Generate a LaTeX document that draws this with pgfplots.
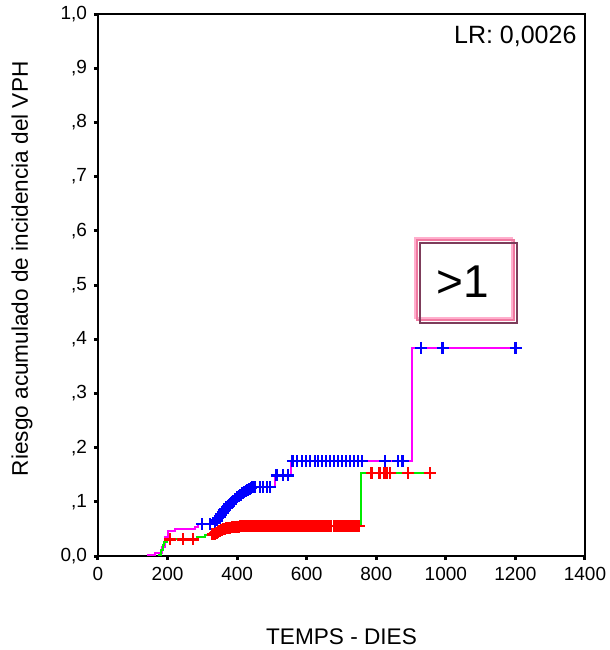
\documentclass[border=0pt]{standalone}
\usepackage{pgfplots}
\pgfplotsset{compat=1.18}
\usepackage{fontspec}
\setmainfont{Liberation Sans}
\definecolor{magline}{RGB}{255,0,255}
\definecolor{grnline}{RGB}{0,235,0}
\definecolor{bluemk}{RGB}{0,0,255}
\definecolor{redmk}{RGB}{255,0,0}
\definecolor{pinkA}{RGB}{255,175,205}
\definecolor{pinkB}{RGB}{240,120,160}
\definecolor{darkB}{RGB}{125,60,90}
\begin{document}
\begin{tikzpicture}
\path[use as bounding box] (-49pt,-47pt) rectangle (256pt,278pt);
\begin{axis}[
  at={(0,0)}, anchor=south west,
  scale only axis, width=243.5pt, height=271pt,
  xmin=0, xmax=1400, ymin=0, ymax=1,
  xtick={0,200,400,600,800,1000,1200,1400},
  ytick={0,0.1,0.2,0.3,0.4,0.5,0.6,0.7,0.8,0.9,1.0},
  yticklabels={{0,0},{,1},{,2},{,3},{,4},{,5},{,6},{,7},{,8},{,9},{1,0}},
  xtick pos=bottom, ytick pos=left,
  /pgf/number format/assume math mode=true,
  /pgf/number format/1000 sep={},
  tick align=outside,
  major tick length=2pt,
  tick style={black, line width=1.5pt},
  axis line style={black, line width=1.1pt},
  ticklabel style={font=\fontsize{9.5}{11}\selectfont},
  xlabel={TEMPS - DIES},
  ylabel={Riesgo acumulado de incidencia del VPH},
  xlabel style={at={(axis description cs:0.5,0)}, anchor=center, yshift=-40.5pt, font=\fontsize{11.3}{13}\selectfont},
  ylabel style={at={(axis description cs:-0.156,0.53)}, anchor=center, font=\fontsize{11.3}{13}\selectfont},
]
% magenta curve (blue censor marks)
\addplot[const plot, magline, line width=1pt] coordinates {
(141,0.002) (164,0.006) (185,0.017) (192,0.035) (200,0.046) (222,0.050) (279,0.054) (287,0.059)
(330,0.061) (336,0.062) (341,0.066) (346,0.070) (350,0.073) (354,0.077) (358,0.080) (362,0.084)
(366,0.087) (370,0.090) (374,0.092) (378,0.095) (382,0.098) (386,0.100) (390,0.102) (395,0.105)
(400,0.108) (405,0.110) (410,0.113) (415,0.116) (420,0.118) (425,0.120) (430,0.122) (435,0.124)
(440,0.126) (445,0.127) (508,0.149) (556,0.175) (902,0.384) (1201,0.384)
};
\addplot[only marks, mark=+, mark size=3pt, bluemk, line width=1.3pt] coordinates {
(299,0.059) (322,0.059)
(336,0.062) (341,0.066) (346,0.070) (350,0.073) (354,0.077) (358,0.080) (362,0.084)
(366,0.087) (370,0.090) (374,0.092) (378,0.095) (382,0.098) (386,0.100) (390,0.102) (395,0.105)
(400,0.108) (405,0.110) (410,0.113) (415,0.116) (420,0.118) (425,0.120) (430,0.122) (435,0.124)
(440,0.126) (445,0.127)
(451,0.127) (466,0.127) (474,0.127) (486,0.127) (494,0.127)
(514,0.149) (532,0.149) (546,0.149)
(560,0.175) (572,0.175) (586,0.175) (598,0.175) (609,0.175) (624,0.175) (632,0.175) (644,0.175)
(655,0.175) (667,0.175) (678,0.175) (690,0.175) (701,0.175) (713,0.175) (724,0.175) (736,0.175)
(747,0.175) (759,0.175) (825,0.175) (862,0.175) (876,0.175)
(928,0.384) (991,0.384) (1201,0.384)
};
% green curve (red censor marks)
\addplot[const plot, grnline, line width=1pt] coordinates {
(172,0.002) (180,0.011) (186,0.020) (190,0.026) (198,0.031) (284,0.035) (307,0.039)
(330,0.040) (335,0.041) (340,0.043) (345,0.045) (350,0.046) (355,0.048) (360,0.049) (365,0.050)
(370,0.051) (375,0.052) (385,0.053) (395,0.054) (410,0.055) (756,0.153) (954,0.153)
};
\addplot[only marks, mark=+, mark size=3pt, redmk, line width=1.3pt] coordinates {
(207,0.031) (244,0.031) (273,0.031)
(330,0.040) (335,0.041) (340,0.043) (345,0.045) (350,0.046) (355,0.048) (360,0.049) (365,0.050)
(370,0.051) (375,0.052) (380,0.052) (385,0.053) (390,0.053) (395,0.054) (400,0.054) (405,0.054)
(410,0.055) (415,0.055) (420,0.055) (425,0.055) (430,0.055) (435,0.055) (440,0.055) (445,0.055)
(450,0.055) (455,0.055) (460,0.055) (465,0.055) (470,0.055) (478,0.055) (485,0.055) (490,0.055)
(497,0.055) (503,0.055) (510,0.055) (515,0.055) (520,0.055) (528,0.055) (535,0.055) (540,0.055)
(548,0.055) (555,0.055) (562,0.055) (570,0.055) (575,0.055) (582,0.055) (590,0.055) (598,0.055)
(605,0.055) (612,0.055) (620,0.055) (628,0.055) (635,0.055) (640,0.055) (648,0.055) (655,0.055)
(662,0.055) (670,0.055) (678,0.055) (685,0.055) (690,0.055) (697,0.055) (703,0.055) (710,0.055)
(715,0.055) (722,0.055) (728,0.055) (735,0.055) (740,0.055) (745,0.055) (750,0.055)
(787,0.153) (810,0.153) (822,0.153) (830,0.153) (839,0.153) (891,0.153) (954,0.153)
};
% LR text
\node[anchor=east, font=\fontsize{12.5}{14}\selectfont] at (axis description cs:0.997,0.958) {LR: 0,0026};
% legend-like box
\draw[pinkA, line width=0.9pt] (axis description cs:0.651,0.439) rectangle (axis description cs:0.850,0.587);
\draw[pinkB, line width=0.8pt] (axis description cs:0.655,0.435) rectangle (axis description cs:0.854,0.583);
\draw[darkB, line width=0.9pt] (axis description cs:0.661,0.430) rectangle (axis description cs:0.860,0.577);
\node[font=\fontsize{23}{26}\selectfont] at (axis description cs:0.749,0.506) {>1};
\end{axis}
\end{tikzpicture}
\end{document}
